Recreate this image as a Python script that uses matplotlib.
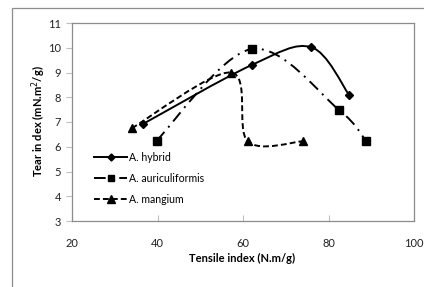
import numpy as np
import matplotlib
matplotlib.use("Agg")
import matplotlib.pyplot as plt
from matplotlib.path import Path
from matplotlib.patches import PathPatch, Rectangle
from matplotlib.lines import Line2D

# Data
series_names = ["A. hybrid", "A. auriculiformis", "A. mangium"]
hybrid_x = [36.6, 62.0, 76.0, 84.8]
hybrid_y = [6.92, 9.30, 10.02, 8.10]
auric_x = [39.8, 62.0, 82.5, 88.7]
auric_y = [6.25, 9.95, 7.48, 6.25]
mangium_x = [34.0, 57.2, 61.1, 74.0]
mangium_y = [6.75, 9.00, 6.22, 6.22]
x_ticks = [20, 40, 60, 80, 100]
y_ticks = [3, 4, 5, 6, 7, 8, 9, 10, 11]

plt.rcParams['font.family'] = ['Lato', 'DejaVu Sans']

fig = plt.figure(figsize=(4.24, 2.87), dpi=100)
W, H = 424, 287
ax = fig.add_axes([72 / W, 1 - 221 / H, (414 - 72) / W, (221 - 23) / H])

# outer chart frame (left and top visible)
fig.patches.append(Rectangle((12 / W, -0.1), 1.2, 1 - 8 / H + 0.1, transform=fig.transFigure,
                             fill=False, edgecolor='#8c8c8c', lw=0.9))


def smooth_path(xs, ys):
    P = np.column_stack([xs, ys]).astype(float)
    n = len(P)
    verts = [P[0]]
    codes = [Path.MOVETO]
    for i in range(n - 1):
        p_prev = P[i - 1] if i > 0 else P[i]
        p_next2 = P[i + 2] if i + 2 < n else P[i + 1]
        c1 = P[i] + (P[i + 1] - p_prev) / 6.0
        c2 = P[i + 1] - (p_next2 - P[i]) / 6.0
        verts += [c1, c2, P[i + 1]]
        codes += [Path.CURVE4] * 3
    return Path(verts, codes)


styles = [
    (hybrid_x, hybrid_y, '-', 'D', 4.2),
    (auric_x, auric_y, (0, (6, 3, 1, 3)), 's', 5.6),
    (mangium_x, mangium_y, (0, (3, 1.6)), '^', 6.2),
]
handles = []
for (xs, ys, ls, mk, ms), name in zip(styles, series_names):
    patch = PathPatch(smooth_path(xs, ys), fill=False, edgecolor='black', lw=1.4, linestyle=ls)
    ax.add_patch(patch)
    ax.plot(xs, ys, linestyle='none', marker=mk, markersize=ms, color='black', zorder=3)
    handles.append(Line2D([], [], color='black', lw=1.4, linestyle=ls, marker=mk, markersize=ms * 0.85))

ax.set_xlim(20, 100)
ax.set_ylim(3, 11)
ax.set_xticks(x_ticks)
ax.set_yticks(y_ticks)
ax.tick_params(axis='x', direction='in', length=4, color='#bfbfbf', labelsize=8, pad=12, labelcolor='#222222')
ax.tick_params(axis='y', direction='out', length=4, color='#bfbfbf', labelsize=8, pad=4, labelcolor='#222222')
for s in ax.spines.values():
    s.set_color('#8c8c8c')
    s.set_linewidth(0.9)

fig.text(242 / W, 1 - 258 / H, "Tensile index (N.m/g)", ha='center', va='center', fontsize=8, fontweight='bold')
fig.text(39 / W, 1 - 121 / H, "Tear in dex (mN.m$^2$/g)", ha='center', va='center', rotation=90,
         fontsize=8, fontweight='bold')

leg = ax.legend(handles=handles, labels=series_names, loc='lower left', bbox_to_anchor=(18 / 342, 12 / 198),
                frameon=False, fontsize=7.6, handlelength=3.1, handletextpad=0.2, labelspacing=0.95,
                borderaxespad=0)

fig.savefig("out.png", dpi=100)
